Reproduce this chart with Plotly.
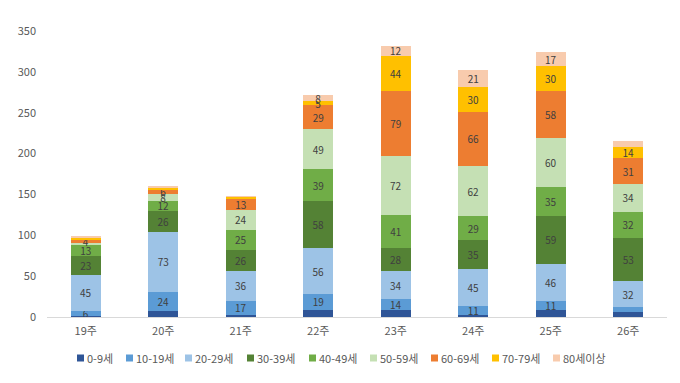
import plotly.graph_objects as go

weeks = ["19주", "20주", "21주", "22주", "23주", "24주", "25주", "26주"]
age_groups = ["0-9세", "10-19세", "20-29세", "30-39세", "40-49세",
              "50-59세", "60-69세", "70-79세", "80세이상"]

v_0_9 = [1, 7, 3, 9, 8, 3, 8, 6]
v_10_19 = [6, 24, 17, 19, 14, 11, 11, 6]
v_20_29 = [45, 73, 36, 56, 34, 45, 46, 32]
v_30_39 = [23, 26, 26, 58, 28, 35, 59, 53]
v_40_49 = [13, 12, 25, 39, 41, 29, 35, 32]
v_50_59 = [3, 8, 24, 49, 72, 62, 60, 34]
v_60_69 = [4, 6, 13, 29, 79, 66, 58, 31]
v_70_79 = [2, 3, 3, 5, 44, 30, 30, 14]
v_80 = [1, 1, 1, 8, 12, 21, 17, 7]

series = [v_0_9, v_10_19, v_20_29, v_30_39, v_40_49, v_50_59, v_60_69, v_70_79, v_80]
colors = ["#2F5597", "#5B9BD5", "#9DC3E6", "#548235", "#70AD47",
          "#C5E0B4", "#ED7D31", "#FFC000", "#F8CBAD"]

# labels not drawn in the reference
hidden_labels = {("0-9세", w) for w in weeks} | {("10-19세", "26주"), ("80세이상", "26주")}
label_min = 4

font_family = "Noto Sans CJK KR, Noto Sans, sans-serif"

W, H = 680, 383
ML, MR, MT, MB = 39, 21, 23, 74
PW, PH = W - ML - MR, H - MT - MB

fig = go.Figure()
for name, vals, col in zip(age_groups, series, colors):
    texts = []
    for w, v in zip(weeks, vals):
        if (name, w) in hidden_labels or v < label_min:
            texts.append("")
        else:
            texts.append(str(v))
    fig.add_trace(go.Bar(
        name=name, x=weeks, y=vals, marker_color=col, marker_line_width=0,
        text=texts, textposition="inside", insidetextanchor="middle",
        constraintext="none", textangle=0,
        textfont=dict(size=10, color="#404040", family=font_family),
        width=0.39, showlegend=False,
    ))

# custom single-row legend (pixel positions of each entry's square, figure coords)
legend_px = [69, 118, 177, 239, 301, 362, 423, 484, 545]
legend_py = 350
sq = 7
shapes = []
annotations = []
for name, col, px in zip(age_groups, colors, legend_px):
    x0 = (px - ML) / PW
    x1 = (px + sq - ML) / PW
    y0 = (MT + PH - (legend_py + sq / 2)) / PH
    y1 = (MT + PH - (legend_py - sq / 2)) / PH
    shapes.append(dict(type="rect", xref="paper", yref="paper",
                       x0=x0, x1=x1, y0=y0, y1=y1,
                       fillcolor=col, line=dict(width=0)))
    annotations.append(dict(xref="paper", yref="paper",
                            x=(px + sq + 1 - ML) / PW,
                            y=(MT + PH - legend_py) / PH,
                            xanchor="left", yanchor="middle", showarrow=False,
                            text=name, font=dict(size=11, color="#595959", family=font_family)))

fig.update_layout(
    barmode="stack",
    width=W, height=H,
    margin=dict(l=ML, r=MR, t=MT, b=MB, autoexpand=False),
    paper_bgcolor="white", plot_bgcolor="white",
    font=dict(family=font_family, size=11, color="#595959"),
    showlegend=False,
    shapes=shapes,
    annotations=annotations,
)
fig.update_xaxes(showline=True, linecolor="#D9D9D9", linewidth=1, ticks="",
                 ticklabelstandoff=4,
                 tickfont=dict(size=11, color="#595959"), showgrid=False)
fig.update_yaxes(range=[0, 350], dtick=50, showgrid=False, zeroline=False,
                 showline=False, ticks="", ticklabelstandoff=10,
                 tickfont=dict(size=11, color="#595959"))

fig.write_html("out.html")
